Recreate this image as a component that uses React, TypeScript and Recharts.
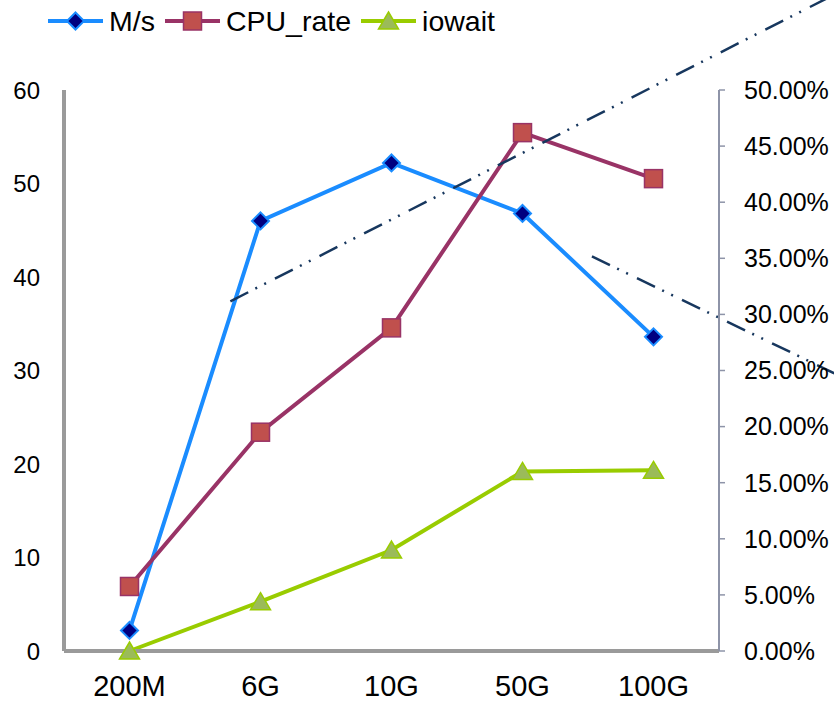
import React from 'react';
import { ComposedChart, Line, XAxis, YAxis, ReferenceLine } from 'recharts';

const categories = ['200M', '6G', '10G', '50G', '100G'];
const speed = [2.2, 46.0, 52.2, 46.8, 33.6];
const cpuRate = [0.0575, 0.195, 0.288, 0.462, 0.421];
const iowait = [0.0, 0.044, 0.09, 0.16, 0.161];

const leftTicks = [0, 10, 20, 30, 40, 50, 60];
const rightTicks = [0, 0.05, 0.1, 0.15, 0.2, 0.25, 0.3, 0.35, 0.4, 0.45, 0.5];

// hand drawn dash-dot guides: [category position, left axis value]
const guideA = [[0.77, 37.4], [5.38, 70.2]];
const guideB = [[3.53, 42.2], [5.38, 29.7]];

const data = categories.map((name, i) => ({
  pos: i,
  name,
  speed: speed[i],
  cpu: cpuRate[i],
  iowait: iowait[i],
}));

const FONT = '"Liberation Sans", Arial, sans-serif';
const BLUE = '#1a8cff';
const MAROON = '#993366';
const GREEN = '#99cc00';
const GUIDE = '#17375e';

const Diamond = ({ cx, cy }: { cx: number; cy: number }) => (
  <path d={`M${cx},${cy - 8.5}L${cx + 8.5},${cy}L${cx},${cy + 8.5}L${cx - 8.5},${cy}Z`} fill='#000080' stroke={BLUE} strokeWidth={2} />
);
const Square = ({ cx, cy }: { cx: number; cy: number }) => (
  <rect x={cx - 9} y={cy - 9} width={18} height={18} fill='#c0504d' stroke={MAROON} strokeWidth={1.5} />
);
const Triangle = ({ cx, cy }: { cx: number; cy: number }) => (
  <path d={`M${cx},${cy - 9}L${cx + 10},${cy + 8}L${cx - 10},${cy + 8}Z`} fill='#9bbb59' stroke={GREEN} strokeWidth={1.5} />
);

const series = [
  { key: 'speed', name: 'M/s', color: BLUE, axis: 'left', Marker: Diamond },
  { key: 'cpu', name: 'CPU_rate', color: MAROON, axis: 'right', Marker: Square },
  { key: 'iowait', name: 'iowait', color: GREEN, axis: 'right', Marker: Triangle },
];

function LegendRow() {
  return (
    <div style={{ position: 'absolute', top: 1, left: 48, height: 40, display: 'flex', alignItems: 'center', fontFamily: FONT, fontSize: 28.5, color: '#000' }}>
      {series.map((s) => (
        <div key={s.key} style={{ display: 'flex', alignItems: 'center', marginRight: 10 }}>
          <svg width={55} height={24} style={{ marginRight: 6 }}>
            <line x1={0} y1={12} x2={55} y2={12} stroke={s.color} strokeWidth={4} />
            <s.Marker cx={27.5} cy={12} />
          </svg>
          <span>{s.name}</span>
        </div>
      ))}
    </div>
  );
}

export default function App() {
  return (
    <div style={{ position: 'relative', width: 834, height: 704, background: '#fff' }}>
      <style>{'body{margin:0}'}</style>
      <ComposedChart width={834} height={704} data={data} margin={{ top: 90, right: 0, bottom: 0, left: 0 }}>
        <XAxis
          dataKey='pos'
          type='number'
          domain={[-0.5, 4.5]}
          allowDataOverflow
          ticks={[0, 1, 2, 3, 4]}
          tickFormatter={(v: number) => categories[v] ?? ''}
          height={53}
          interval={0}
          axisLine={{ stroke: '#9a9a9a', strokeWidth: 4 }}
          tickLine={false}
          tickMargin={18}
          tick={{ fill: '#000', fontSize: 29, fontFamily: FONT }}
        />
        <YAxis
          yAxisId='left'
          domain={[0, 60]}
          ticks={leftTicks}
          interval={0}
          width={64}
          axisLine={{ stroke: '#9a9a9a', strokeWidth: 4 }}
          tickLine={false}
          tickMargin={18}
          tick={{ fill: '#000', fontSize: 24, fontFamily: FONT }}
        />
        <YAxis
          yAxisId='right'
          orientation='right'
          domain={[0, 0.5]}
          ticks={rightTicks}
          interval={0}
          width={115}
          axisLine={{ stroke: '#8e94a8', strokeWidth: 2 }}
          tickLine={{ stroke: '#8e94a8', strokeWidth: 1.5 }}
          tickSize={6}
          tickMargin={19}
          tickFormatter={(v: number) => (v * 100).toFixed(2) + '%'}
          tick={{ fill: '#000', fontSize: 25, fontFamily: FONT }}
        />
        {series.map((s) => (
          <Line
            key={s.key}
            yAxisId={s.axis}
            dataKey={s.key}
            name={s.name}
            stroke={s.color}
            strokeWidth={4}
            type='linear'
            isAnimationActive={false}
            dot={(p: any) => <s.Marker key={`${s.key}-${p.index}`} cx={p.cx} cy={p.cy} />}
            activeDot={false}
          />
        ))}
        {[guideA, guideB].map((g, i) => (
          <ReferenceLine
            key={i}
            yAxisId='left'
            ifOverflow='visible'
            segment={g.map(([x, y]) => ({ x, y }))}
            stroke={GUIDE}
            strokeWidth={2.5}
            strokeDasharray='20 8 2 8 2 10'
          />
        ))}
      </ComposedChart>
      <LegendRow />
    </div>
  );
}
